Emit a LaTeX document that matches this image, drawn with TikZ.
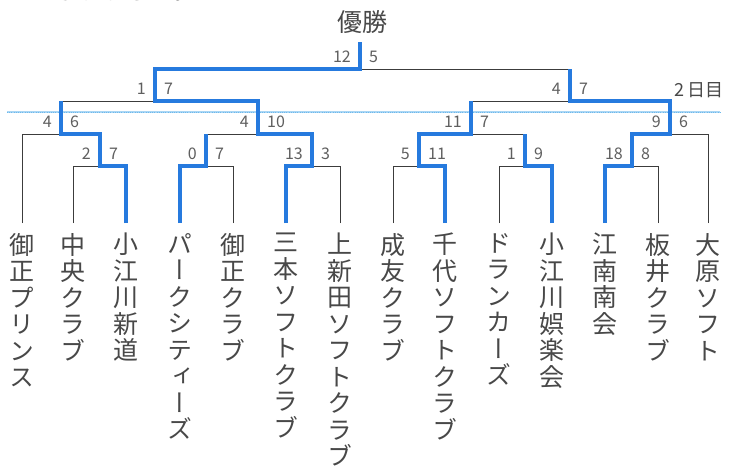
\documentclass[tikz,border=0pt]{standalone}
\usepackage{fontspec}
\setmainfont{Noto Sans CJK JP}
\newfontfamily\jpfont{Noto Sans CJK JP}
\newfontfamily\vjpfont[RawFeature=+vert]{Noto Sans CJK JP}
\definecolor{winblue}{RGB}{38,122,222}
\definecolor{linegray}{RGB}{60,60,60}
\definecolor{namegray}{RGB}{72,72,72}
\definecolor{scoregray}{RGB}{95,95,95}
\definecolor{dotblue}{RGB}{170,214,244}
\definecolor{dotblue2}{RGB}{110,185,236}
\ExplSyntaxOn
\NewDocumentCommand\vstack{m}{
  \seq_clear:N \l_tmpa_seq
  \tl_map_inline:nn {#1} { \seq_put_right:Nn \l_tmpa_seq {##1} }
  \seq_use:Nn \l_tmpa_seq {\\}
}
\ExplSyntaxOff
\begin{document}
\begin{tikzpicture}[x=1pt,y=-1pt,
  win/.style={draw=winblue, line width=4pt, line join=miter},
  loss/.style={draw=linegray, line width=0.9pt},
  score/.style={font=\jpfont\fontsize{16}{16}\selectfont, text=scoregray, inner sep=0pt},
  lscore/.style={score, anchor=base east},
  rscore/.style={score, anchor=base west},
  team/.style={font=\vjpfont\fontsize{25}{26.5}\selectfont, text=namegray, align=center, anchor=north, inner sep=0pt},
  title/.style={font=\jpfont\fontsize{25}{25}\selectfont, text=namegray, inner sep=0pt},
]
\useasboundingbox (0,0) rectangle (730,471);
\clip (0,0) rectangle (730,471);
\fill[white] (0,0) rectangle (730,471);

% cut-off sentence at the top (cut off in the reference too)
\node[title, anchor=base west, font=\jpfont\fontsize{24}{24}\selectfont] (cut) at (30,0) {となりました。};

% leaves
\foreach \n/\x in {la/22,lb/73,lc/126,ld/180,le/233,lf/286,lg/340,lh/393,li/445,lj/499,lk/552,ll/605,lm/658,ln/708}
  \coordinate (\n) at (\x,223);
% match junctions
\coordinate (m1) at (100,166);
\coordinate (m2) at (61,134);
\coordinate (m3) at (206,166);
\coordinate (m4) at (312,166);
\coordinate (m5) at (258,134);
\coordinate (m6) at (155,101);
\coordinate (m7) at (419,166);
\coordinate (m8) at (525,166);
\coordinate (m9) at (471,134);
\coordinate (m10) at (632,166);
\coordinate (m11) at (670,134);
\coordinate (m12) at (570,101);
\coordinate (m13) at (360,69);
\coordinate (top) at (360,42);

% day-2 dotted line
\coordinate (dl) at (7,112);
\coordinate (dr) at (720,112);
\draw[dotblue, line width=2pt] (dl) -- (dr);
\draw[dotblue2, line width=0.8pt, dash pattern=on 1pt off 1.2pt] (dl) -- (dr);

% losing branches
\draw[loss] (la) |- (m2);
\draw[loss] (lb) |- (m1);
\draw[loss] (m2 |- m6) -- (m6);
\draw[loss] (le) |- (m3);
\draw[loss] (m3 |- m5) -- (m5);
\draw[loss] (lg) |- (m4);
\draw[loss] (lh) |- (m7);
\draw[loss] (lj) |- (m8);
\draw[loss] (m8 |- m9) -- (m9);
\draw[loss] (m9 |- m12) -- (m12);
\draw[loss] (lm) |- (m10);
\draw[loss] (ln) |- (m11);
\draw[loss] (m12 |- m13) -- (m13);

% winning branches
\draw[win] (lc) |- (m1) |- (m2) -- (m2 |- m6);
\draw[win] (ld) |- (m3) -- (m3 |- m5);
\draw[win] (lf) |- (m4) |- (m5) |- (m6) |- (m13) -- (top);
\draw[win] (li) |- (m7) |- (m9) -- (m9 |- m12);
\draw[win] (lk) |- (m8) -- (m8 |- m9);
\draw[win] (ll) |- (m10) |- (m11) |- (m12) -- (m12 |- m13);

% scores
\newcommand\matchscore[3]{%
  \node[lscore] (#1a) at ([xshift=-9pt,yshift=7pt]#1) {#2};
  \node[rscore] (#1b) at ([xshift=9pt,yshift=7pt]#1) {#3};}
\matchscore{m1}{2}{7}
\matchscore{m2}{4}{6}
\matchscore{m3}{0}{7}
\matchscore{m4}{13}{3}
\matchscore{m5}{4}{10}
\matchscore{m6}{1}{7}
\matchscore{m7}{5}{11}
\matchscore{m8}{1}{9}
\matchscore{m9}{11}{7}
\matchscore{m10}{18}{8}
\matchscore{m11}{9}{6}
\matchscore{m12}{4}{7}
\matchscore{m13}{12}{5}

% titles
\node[title] (champ) at (362,22) {優勝};
\node[title, font=\jpfont\fontsize{18}{18}\selectfont] (day2) at (699,90) {2\,日目};

% team names
\node[team] (ta) at ([yshift=-10pt]la) {\vstack{御正プリンス}};
\node[team] (tb) at ([yshift=-10pt]lb) {\vstack{中央クラブ}};
\node[team] (tc) at ([yshift=-10pt]lc) {\vstack{小江川新道}};
\node[team] (td) at ([yshift=-10pt]ld) {\vstack{パークシティーズ}};
\node[team] (te) at ([yshift=-10pt]le) {\vstack{御正クラブ}};
\node[team] (tf) at ([yshift=-10pt]lf) {\vstack{三本ソフトクラブ}};
\node[team] (tg) at ([yshift=-10pt]lg) {\vstack{上新田ソフトクラブ}};
\node[team] (th) at ([yshift=-10pt]lh) {\vstack{成友クラブ}};
\node[team] (ti) at ([yshift=-10pt]li) {\vstack{千代ソフトクラブ}};
\node[team] (tj) at ([yshift=-10pt]lj) {\vstack{ドランカーズ}};
\node[team] (tk) at ([yshift=-10pt]lk) {\vstack{小江川娯楽会}};
\node[team] (tl) at ([yshift=-10pt]ll) {\vstack{江南南会}};
\node[team] (tm) at ([yshift=-10pt]lm) {\vstack{板井クラブ}};
\node[team] (tn) at ([yshift=-10pt]ln) {\vstack{大原ソフト}};
\end{tikzpicture}
\end{document}
